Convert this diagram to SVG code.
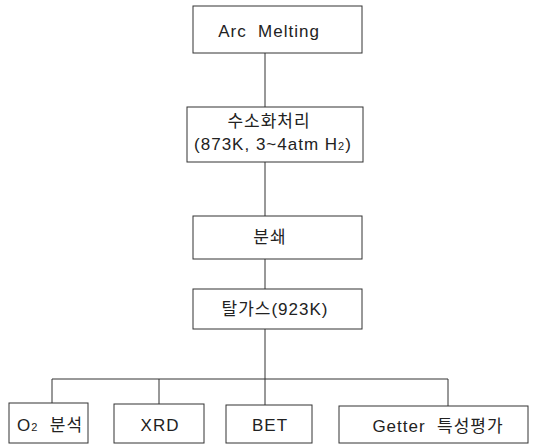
<svg xmlns="http://www.w3.org/2000/svg" width="533" height="445" viewBox="0 0 533 445">
<style>
rect{fill:#fff;stroke:#333;stroke-width:1}
text{font-family:"Liberation Sans","Noto Sans CJK KR",sans-serif;font-size:17px;letter-spacing:1px;fill:#222;text-anchor:middle;white-space:pre}
.c{stroke:#333;stroke-width:1;fill:none}
</style>
<rect x="0" y="0" width="533" height="445" style="stroke:none"/>
<g id="connectors">
<line class="c" x1="265" y1="53" x2="265" y2="107"/>
<line class="c" x1="265" y1="162" x2="265" y2="216"/>
<line class="c" x1="265" y1="259" x2="265" y2="289"/>
<line class="c" x1="265" y1="329" x2="265" y2="405"/>
<line class="c" x1="52" y1="379" x2="448" y2="379"/>
<line class="c" x1="52" y1="379" x2="52" y2="403"/>
<line class="c" x1="159" y1="379" x2="159" y2="404"/>
<line class="c" x1="448" y1="379" x2="448" y2="406"/>
</g>
<g id="arc"><rect x="193" y="6" width="169" height="47"/><text x="269" y="37" xml:space="preserve">Arc  Melting</text></g>
<g id="hydride"><rect x="187" y="107" width="176" height="55"/><text x="269" y="127">수소화처리</text><text x="273" y="150" xml:space="preserve">(873K, 3~4atm H<tspan font-size="11">2</tspan>)</text></g>
<g id="crush"><rect x="193" y="216" width="169" height="43"/><text x="270" y="243">분쇄</text></g>
<g id="degas"><rect x="193" y="289" width="169" height="40"/><text x="275" y="315">탈가스(923K)</text></g>
<g id="o2"><rect x="9" y="403" width="79" height="40"/><text x="50" y="431" xml:space="preserve">O<tspan font-size="11">2</tspan>  분석</text></g>
<g id="xrd"><rect x="114" y="404" width="90" height="39"/><text x="160" y="431">XRD</text></g>
<g id="bet"><rect x="226" y="405" width="86" height="38"/><text x="270" y="431">BET</text></g>
<g id="getter"><rect x="339" y="406" width="189" height="37"/><text x="438" y="432" xml:space="preserve">Getter  특성평가</text></g>
</svg>
